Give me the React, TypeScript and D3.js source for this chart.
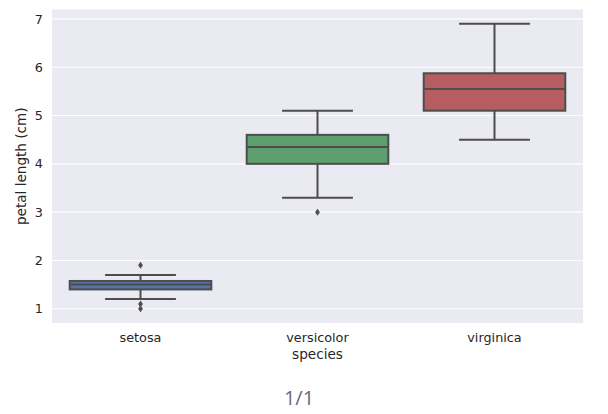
import React from "react";
import * as d3 from "d3";

const species = ["setosa", "versicolor", "virginica"];
const q1 = [1.4, 4.0, 5.1];
const median = [1.5, 4.35, 5.55];
const q3 = [1.575, 4.6, 5.875];
const whiskerLow = [1.2, 3.3, 4.5];
const whiskerHigh = [1.7, 5.1, 6.9];
const outliers = [[1.9, 1.1, 1.0], [3.0], []];
const yTicks = [1, 2, 3, 4, 5, 6, 7];
const colors = ["#5875a4", "#5f9e6e", "#b55d60"];

const W = 608;
const H = 414;
const left = 52;
const right = 583;
const top = 9.5;
const bottom = 323;

export default function App() {
  const x = d3.scaleBand<string>().domain(species).range([left, right]).paddingInner(0).paddingOuter(0);
  const y = d3.scaleLinear().domain([0.705, 7.195]).range([bottom, top]);
  const bw = x.bandwidth();
  const boxW = bw * 0.8;
  const capW = boxW * 0.5;
  const edge = "#4d4d4d";
  const font = "'DejaVu Sans', sans-serif";
  const textColor = "#262626";

  return (
    <svg width={W} height={H} style={{ position: "absolute", left: 0, top: 0, display: "block" }}>
      <rect x={0} y={0} width={W} height={H} fill="#ffffff" />
      <rect x={left} y={top} width={right - left} height={bottom - top} fill="#eaeaf2" />
      {yTicks.map((t) => (
        <g key={t}>
          <line x1={left} x2={right} y1={y(t)} y2={y(t)} stroke="#ffffff" strokeWidth={1.1} />
          <text x={left - 9} y={y(t)} dy="0.36em" textAnchor="end" fontFamily={font} fontSize={12.8} fill={textColor}>
            {t}
          </text>
        </g>
      ))}
      {species.map((s, i) => {
        const cx = (x(s) as number) + bw / 2;
        return (
          <g key={s}>
            <line x1={cx} x2={cx} y1={y(whiskerHigh[i])} y2={y(q3[i])} stroke={edge} strokeWidth={2} />
            <line x1={cx} x2={cx} y1={y(q1[i])} y2={y(whiskerLow[i])} stroke={edge} strokeWidth={2} />
            <line x1={cx - capW / 2} x2={cx + capW / 2} y1={y(whiskerHigh[i])} y2={y(whiskerHigh[i])} stroke={edge} strokeWidth={2} />
            <line x1={cx - capW / 2} x2={cx + capW / 2} y1={y(whiskerLow[i])} y2={y(whiskerLow[i])} stroke={edge} strokeWidth={2} />
            <rect
              x={cx - boxW / 2}
              y={y(q3[i])}
              width={boxW}
              height={y(q1[i]) - y(q3[i])}
              fill={colors[i]}
              stroke={edge}
              strokeWidth={2}
            />
            <line x1={cx - boxW / 2} x2={cx + boxW / 2} y1={y(median[i])} y2={y(median[i])} stroke={edge} strokeWidth={2} />
            {outliers[i].map((o, j) => {
              const oy = y(o);
              return (
                <path
                  key={j}
                  d={`M${cx},${oy - 3.5}L${cx + 2.4},${oy}L${cx},${oy + 3.5}L${cx - 2.4},${oy}Z`}
                  fill={edge}
                />
              );
            })}
            <text x={cx} y={bottom + 19} textAnchor="middle" fontFamily={font} fontSize={12.8} fill={textColor}>
              {s}
            </text>
          </g>
        );
      })}
      <text x={(left + right) / 2} y={bottom + 36} textAnchor="middle" fontFamily={font} fontSize={13.6} fill={textColor}>
        species
      </text>
      <text
        transform={`translate(26,${(top + bottom) / 2}) rotate(-90)`}
        textAnchor="middle"
        fontFamily={font}
        fontSize={13.6}
        fill={textColor}
      >
        petal length (cm)
      </text>
      <text x={299} y={405} textAnchor="middle" fontFamily="'Open Sans', sans-serif" fontSize={20} fill="#6a6a7a">
        1/1
      </text>
    </svg>
  );
}
